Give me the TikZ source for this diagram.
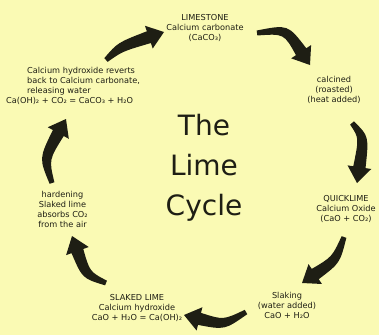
\documentclass[tikz,border=0pt]{standalone}
\usepackage{fontspec}
\setmainfont{DejaVu Sans}
\usetikzlibrary{calc}
\definecolor{bgyellow}{RGB}{250,250,180}
\definecolor{inkdark}{RGB}{30,30,20}
\newcommand\hl{16pt}
\newcommand\hw{12pt}
\newcommand\wa{2.5pt}
\newcommand\wc{5pt}
\newcommand\wb{6.2pt}
\newcommand\cyarrow[3]{%
  \coordinate (aA) at #1;
  \coordinate (aC) at #2;
  \coordinate (aT) at #3;
  \coordinate (aN) at ($(aT)!\hl!(aC)$);
  \coordinate (aPl) at ($(aA)!\wc!90:(aN)$);
  \coordinate (aPr) at ($(aA)!\wc!-90:(aN)$);
  \fill[arrowfill]
    ($(aA)!\wa!90:(aC)$) .. controls ($(aC)+(aPl)-(aA)$) .. ($(aN)!\wb!90:(aT)$)
    -- ($(aN)!\hw!90:(aT)$) -- (aT) -- ($(aN)!\hw!-90:(aT)$)
    -- ($(aN)!\wb!-90:(aT)$) .. controls ($(aC)+(aPr)-(aA)$) .. ($(aA)!\wa!-90:(aC)$)
    -- cycle;
}
\begin{document}
\begin{tikzpicture}[x=1pt,y=-1pt,
  arrowfill/.style={fill=inkdark},
  label/.style={text=inkdark,font=\fontsize{8.2}{10}\selectfont,align=center,inner sep=0pt},
  lefttext/.style={label,align=left},
  titletext/.style={text=inkdark,font=\fontsize{28}{40}\selectfont,inner sep=0pt,anchor=base}]
\fill[bgyellow] (0,0) rectangle (379,335);
\useasboundingbox (0,0) rectangle (379,335);
% texts
\node[label] (limestone) at (205,27.5) {LIMESTONE\\Calcium carbonate\\(CaCO₃)};
\node[label] (calcined) at (334,90) {calcined\\(roasted)\\(heat added)};
\node[label] (quicklime) at (346,209) {QUICKLIME\\Calcium Oxide\\(CaO + CO₂)};
\node[label] (slaking) at (287,305.5) {Slaking\\(water added)\\CaO + H₂O};
\node[label] (slaked) at (137,308) {SLAKED LIME\\Calcium hydroxide\\CaO + H₂O = Ca(OH)₂};
\node[label] (hardening) at (62.5,209) {hardening\\Slaked lime\\absorbs CO₂\\from the air};
\node[lefttext,anchor=west] (reverts) at (27,81) {Calcium hydroxide reverts\\back to Calcium carbonate,\\releasing water};
\node[label,anchor=west] (reverteq) at (6,101) {Ca(OH)₂ + CO₂ = CaCO₃ + H₂O};
\node[titletext] (title1) at (204,135) {The};
\node[titletext] (title2) at (204,175) {Lime};
\node[titletext] (title3) at (204,215) {Cycle};
% arrows
\cyarrow{(106,60)}{(120,47)}{(164,32)}
\cyarrow{(257,33)}{(286,29)}{(310,65)}
\cyarrow{(352,123)}{(364,137)}{(357,183)}
\cyarrow{(344,237)}{(336,260)}{(302,283)}
\cyarrow{(246,312)}{(224,325)}{(184,315)}
\cyarrow{(106,283)}{(86,275)}{(72,236)}
\cyarrow{(52,183)}{(44,159)}{(66,119)}
\end{tikzpicture}
\end{document}
